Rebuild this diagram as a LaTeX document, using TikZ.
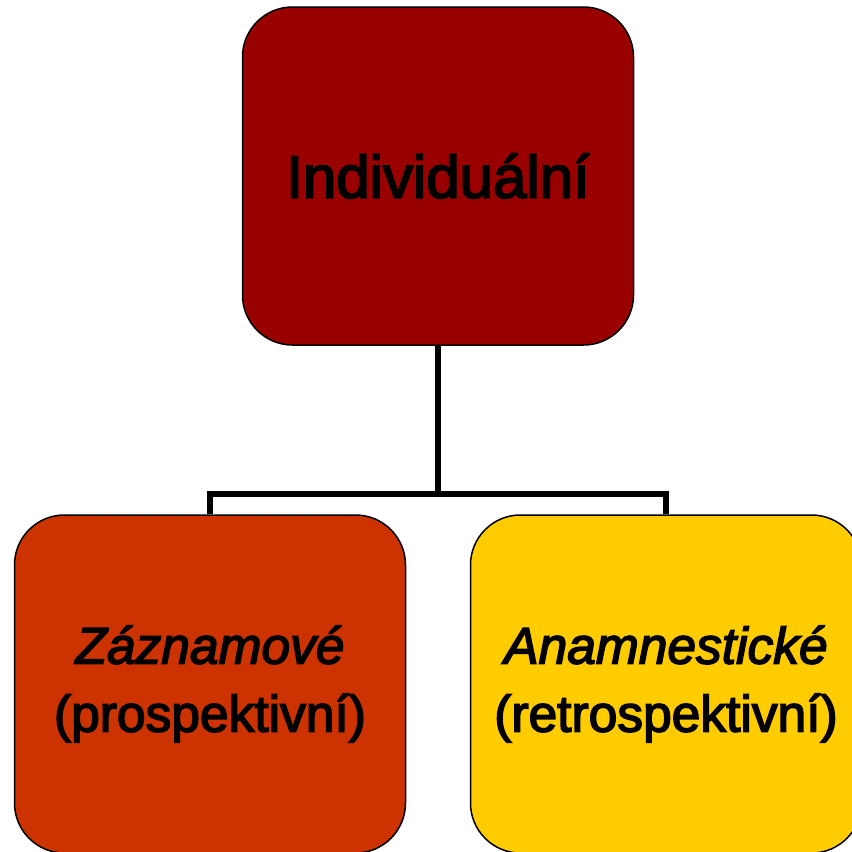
\documentclass[tikz,border=0pt]{standalone}
\usepackage{fontspec}
\setmainfont{Liberation Sans}
\newfontfamily\embr{Liberation Sans}[RawFeature={embolden=3}]
\newfontfamily\embi{Liberation Sans Italic}[RawFeature={embolden=3}]
\definecolor{topred}{HTML}{990000}
\definecolor{leftorange}{HTML}{CC3300}
\definecolor{rightyellow}{HTML}{FFCC00}
\begin{document}
\begin{tikzpicture}[x=1pt,y=-1pt,
  boxnode/.style={draw=black, line width=1.5pt, rounded corners=50pt,
    minimum width=391pt, minimum height=338pt, inner sep=0pt,
    align=center, text=black},
  conn/.style={draw=black, line width=6pt, line join=miter}]
\useasboundingbox (0,0) rectangle (852,852);
\clip (0,0) rectangle (852,852);
\node[boxnode, fill=topred, font=\fontsize{60}{72}\selectfont\embr] (top) at (438,176) {Individuální};
\node[boxnode, fill=leftorange, font=\fontsize{51.5}{68}\selectfont\embr] (left) at (210,684) {{\embi Záznamové}\\(prospektivní)};
\node[boxnode, fill=rightyellow, font=\fontsize{51.5}{68}\selectfont\embr] (right) at (666,684) {{\embi Anamnestické}\\(retrospektivní)};
\coordinate (junction) at (438,494);
\draw[conn] (top.south) -- (junction) -| (left.north);
\draw[conn] (junction) -| (right.north);
\end{tikzpicture}
\end{document}
